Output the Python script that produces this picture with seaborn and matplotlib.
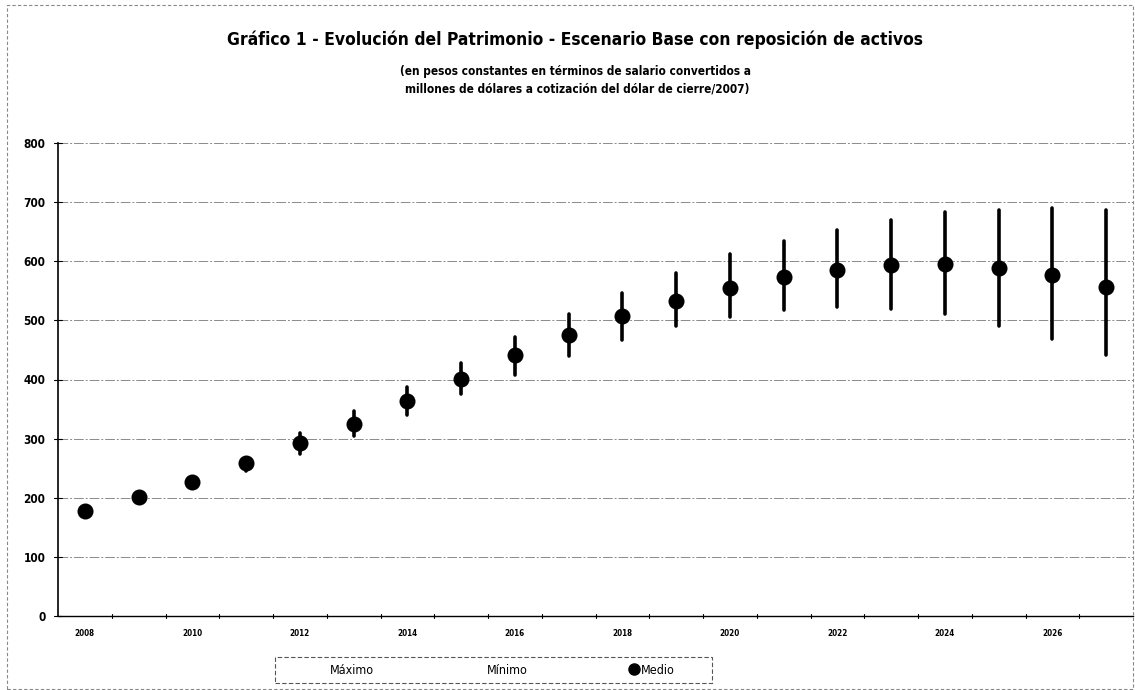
import matplotlib
matplotlib.use("Agg")
import matplotlib.pyplot as plt
from matplotlib.lines import Line2D
from matplotlib.patches import Rectangle
import pandas as pd
import seaborn as sns

# Años del escenario y valores del patrimonio (millones de dólares)
anios = list(range(2008, 2028))
medio = [178, 201, 226, 258, 292, 325, 363, 401, 441, 476, 507, 533, 555, 573,
         586, 594, 596, 589, 576, 557]
maximo = [180, 203, 229, 266, 310, 346, 387, 428, 472, 510, 546, 580, 612, 634,
          653, 669, 683, 687, 690, 686]
minimo = [176, 199, 223, 245, 274, 305, 340, 376, 407, 439, 466, 490, 506, 518,
          522, 520, 510, 490, 469, 441]
yticks = [0, 100, 200, 300, 400, 500, 600, 700, 800]

titulo = "Gráfico 1 - Evolución del Patrimonio - Escenario Base con reposición de activos"
subtitulo = ["(en pesos constantes en términos de salario convertidos a",
             "millones de dólares a cotización del dólar de cierre/2007)"]
series = ["Máximo", "Mínimo", "Medio"]

# Formato largo: mínimo, medio y máximo por año; la mediana devuelve el valor medio
# y el intervalo de percentil 100 cubre del mínimo al máximo.
filas = []
for a, lo, me, hi in zip(anios, minimo, medio, maximo):
    for v in (lo, me, hi):
        filas.append({"anio": str(a), "valor": v})
df = pd.DataFrame(filas)

sns.set_theme(style="white")
plt.rcParams["font.family"] = ["DejaVu Sans"]
plt.rcParams["text.color"] = "black"
plt.rcParams["xtick.color"] = "black"
plt.rcParams["ytick.color"] = "black"

W, H = 1135, 690
fig = plt.figure(figsize=(W / 100, H / 100), dpi=100)
ax = fig.add_axes([58 / W, 1 - 616 / H, (1133 - 58) / W, (616 - 143) / H])

sns.pointplot(data=df, x="anio", y="valor", estimator="median",
              errorbar=("pi", 100), linestyle="none", color="black",
              markers="o", markersize=9.5, err_kws={"linewidth": 2.6},
              ax=ax, zorder=5)

ax.set_ylim(0, 800)
ax.set_xlim(-0.5, len(anios) - 0.5)
ax.set_yticks(yticks)
ax.set_yticklabels([str(v) for v in yticks], fontsize=8.5, fontweight="bold",
                   fontstretch="condensed")
for v in yticks[1:]:
    ax.axhline(v, color="#8a8a8a", linewidth=0.7, linestyle=(0, (10, 2, 2, 2)),
               zorder=1)

ax.set_xticks(range(len(anios)))
ax.set_xticklabels([str(a) if i % 2 == 0 else "" for i, a in enumerate(anios)],
                   fontsize=5.8, fontweight="bold", fontstretch="condensed")
ax.tick_params(axis="x", length=0, pad=9)
ax.tick_params(axis="y", length=0, pad=9)
# marcas del eje X entre categorías
for i in range(len(anios) - 1):
    ax.plot([i + 0.5, i + 0.5], [-4, 4], color="black", linewidth=0.8,
            clip_on=False, zorder=3)
for v in yticks:
    ax.plot([-0.58, -0.42], [v, v], color="black", linewidth=0.8,
            clip_on=False, zorder=3)

ax.set_xlabel("")
ax.set_ylabel("")
for side in ("top", "right"):
    ax.spines[side].set_visible(False)
ax.spines["left"].set_color("black")
ax.spines["left"].set_linewidth(1.2)
ax.spines["bottom"].set_color("black")
ax.spines["bottom"].set_linewidth(1.0)

fig.text(575 / W, 1 - 40 / H, titulo, ha="center", va="center",
         fontsize=12.5, fontweight="bold", fontstretch="condensed")
fig.text(576 / W, 1 - 72 / H, subtitulo[0], ha="center", va="center",
         fontsize=8.5, fontweight="bold", fontstretch="condensed")
fig.text(577 / W, 1 - 89 / H, subtitulo[1], ha="center", va="center",
         fontsize=8.5, fontweight="bold", fontstretch="condensed")

handles = [Line2D([], [], linestyle="none", marker=None),
           Line2D([], [], linestyle="none", marker=None),
           Line2D([], [], linestyle="none", marker="o", color="black",
                  markersize=8)]
leg = fig.legend(handles, series, ncol=3,
                 loc="center", bbox_to_anchor=(497 / W, 1 - 670 / H),
                 frameon=False, columnspacing=8.2,
                 handlelength=0.6, handletextpad=0.25,
                 prop={"size": 9, "stretch": "condensed"})

# marco de la leyenda
fig.patches.append(Rectangle((275 / W, 1 - 683 / H), (712 - 275) / W, (683 - 657) / H,
                             transform=fig.transFigure, fill=False,
                             edgecolor="#555555", linewidth=0.8,
                             linestyle=(0, (4, 2))))
# borde del área del gráfico
fig.patches.append(Rectangle((7 / W, 1 - 689 / H), (1133 - 7) / W, (689 - 5) / H,
                             transform=fig.transFigure, fill=False,
                             edgecolor="#888888", linewidth=0.8,
                             linestyle=(0, (3, 2))))

fig.savefig("out.png", dpi=100)
